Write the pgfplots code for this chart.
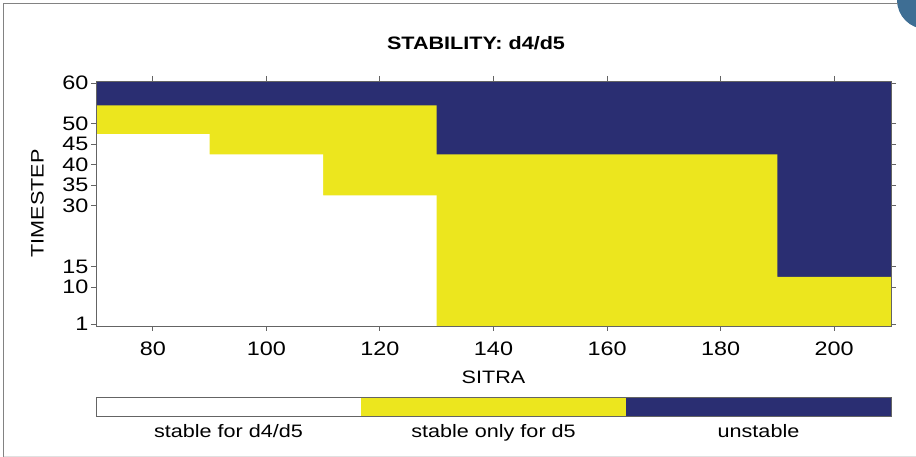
\documentclass[border=0pt]{standalone}
\usepackage{pgfplots}
\pgfplotsset{compat=1.18}
\usepackage{fontspec}
\setmainfont{Liberation Sans}[FakeStretch=1.2]
\definecolor{ublue}{RGB}{42,46,114}
\definecolor{uyellow}{RGB}{236,230,30}
\definecolor{framegray}{RGB}{130,130,130}
\definecolor{axgray}{RGB}{100,100,100}
\definecolor{decoblue}{RGB}{62,110,148}
\begin{document}
\begin{tikzpicture}[x=1pt,y=1pt,font=\fontsize{18}{21}\selectfont]
\useasboundingbox (0,0) rectangle (916,457);
\begin{scope}
\clip (0,0) rectangle (916,457);
\fill[decoblue] (926,457) circle (29);
\end{scope}
\draw[framegray,line width=1.2pt] (3.5,0) -- (3.5,453.5) -- (898,453.5);
\draw[black!12,line width=0.8pt] (3.5,0.8) -- (916,0.8);
\begin{axis}[
  at={(96pt,131pt)}, anchor=south west,
  scale only axis, width=795pt, height=245pt,
  xmin=70, xmax=210, ymin=0.5, ymax=60.5,
  xtick={80,100,120,140,160,180,200},
  ytick={1,10,15,30,35,40,45,50,60},
  tick align=outside, major tick length=5pt,
  axis on top,
  axis line style={axgray, line width=0.9pt},
  every tick/.style={axgray, line width=0.9pt},
  /pgf/number format/assume math mode=true,
  tick label style={font=\fontsize{19.5}{22}\selectfont},
  xticklabel style={yshift=-7pt},
  yticklabel style={xshift=1pt},
  xlabel={SITRA}, ylabel={TIMESTEP},
  xlabel style={at={(axis description cs:0.5,-0.208)}, anchor=center},
  ylabel style={at={(axis description cs:-0.0736,0.5)}, anchor=center},
]
\addplot[fill=ublue, draw=none] coordinates {(70,0.5) (210,0.5) (210,60.5) (70,60.5)} -- cycle;
\addplot[fill=uyellow, draw=none] coordinates {(70,0.5) (70,54.5) (130,54.5) (130,42.5) (190,42.5) (190,12.5) (210,12.5) (210,0.5)} -- cycle;
\addplot[fill=white, draw=none] coordinates {(70,0.5) (70,47.5) (90,47.5) (90,42.5) (110,42.5) (110,32.5) (130,32.5) (130,0.5)} -- cycle;
\end{axis}
\node[font=\fontsize{18}{21}\selectfont\bfseries] at (476,414) {STABILITY: d4/d5};
% colour key
\fill[white] (96,40.3) rectangle (361,59.7);
\fill[uyellow] (361,40.3) rectangle (626,59.7);
\fill[ublue] (626,40.3) rectangle (891,59.7);
\draw[axgray, line width=0.9pt] (96,40.3) rectangle (891,59.7);
\node[anchor=base] at (228.5,19) {stable for d4/d5};
\node[anchor=base] at (493.5,19) {stable only for d5};
\node[anchor=base] at (758.5,19) {unstable};
\end{tikzpicture}
\end{document}
